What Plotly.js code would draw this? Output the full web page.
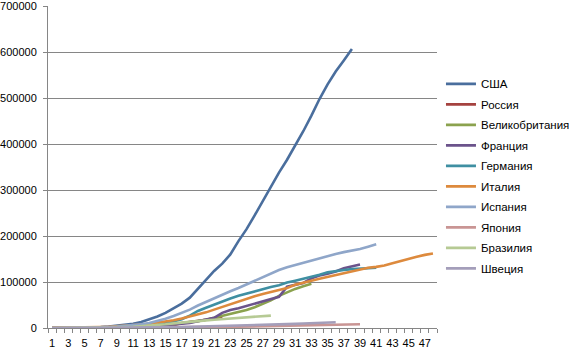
<!DOCTYPE html>
<html>
<head>
<meta charset="utf-8">
<script src="https://cdn.plot.ly/plotly-3.0.1.min.js"></script>
<style>html,body{margin:0;padding:0;background:#fff;}#chart{width:569px;height:354px;}</style>
</head>
<body>
<div id="chart"></div>
<script>
const seriesNames = ["США","Россия","Великобритания","Франция","Германия","Италия","Испания","Япония","Бразилия","Швеция"];
const seriesColors = ["#4A6E9D","#A5423F","#8BA24E","#6B538B","#3F8FA2","#DD8A3D","#8FA6C9","#C99594","#B6CA94","#A49EBA"];

const usa = [100,200,400,700,1000,1600,2200,3000,4500,6500,9000,13000,19000,25000,33000,43000,53000,66000,85000,103000,124000,140000,160000,189000,215000,245000,277000,308000,338000,366000,396000,428000,462000,498000,530000,558000,582000,607000];
const russia = [100,150,200,250,300,400,500,650,850,1100,1500,1900,2400,3500,4700,6300,11000,13000,15000,18000,21000,24500];
const uk = [100,150,200,300,400,600,800,1100,1400,1900,2600,3300,4000,5000,6600,8100,10000,12000,15000,18000,22000,25500,29500,34000,39000,45000,52000,60000,70000,78000,85000,91000,96000];
const france = [100,130,190,290,420,610,950,1200,1800,2300,2900,3700,4500,5400,6600,7700,9100,11000,14500,18000,22000,33000,39000,43000,48000,52000,57000,62000,68000,90000,94000,98000,108000,114000,118000,123000,130000,134000,138000];
const germany = [100,150,200,300,500,700,1000,1300,1900,2700,3700,4800,6000,7500,10000,14000,19000,27000,37000,44000,51000,58000,64000,70000,75000,80000,85000,89000,93000,99000,103000,107000,111000,116000,121000,124000,126000,128000,129000,130000,131000];
const italy = [200,300,500,800,1100,1600,2100,2800,3600,4600,5800,7300,9200,11500,14000,17000,20500,24500,29000,34000,40000,46000,52000,58000,64000,69000,74000,78000,82000,87000,94000,99000,103000,107000,111000,115000,119000,123000,127000,131000,133000,136000,141000,146000,151000,155000,159000,162000];
const spain = [100,150,250,400,600,900,1300,2000,3000,4300,6000,8000,11000,15000,20000,26000,33000,40000,49000,57000,65000,73000,80000,87000,95000,103000,111000,119000,126000,132000,137000,142000,147000,152000,157000,161000,165000,168000,172000,177000,182000];
const japan = [150,200,250,300,400,450,500,550,600,700,800,900,1000,1100,1200,1300,1400,1500,1700,1900,2100,2300,2600,2900,3200,3500,3800,4100,4400,4800,5200,5600,6000,6400,6800,7200,7500,7800,8100];
const brazil = [100,150,200,300,450,600,900,1200,1500,2000,2500,3500,4500,6000,8000,10000,12000,13500,15000,16500,18000,19500,21000,22000,23500,24500,25500,27000];
const sweden = [100,150,200,300,400,500,600,700,800,900,1000,1100,1300,1500,1700,2000,2300,2600,3000,3400,3700,4000,4400,4900,5500,6000,6500,7000,7600,8200,9000,9700,10500,11000,11800,12500];

const seriesValues = [usa,russia,uk,france,germany,italy,spain,japan,brazil,sweden];
const xTickLabels = [];
for (let d = 1; d <= 47; d += 2) xTickLabels.push(d);
const yTicks = [0,100000,200000,300000,400000,500000,600000,700000];

const traces = seriesValues.map((vals, i) => ({
  type: 'scatter',
  mode: 'lines',
  name: seriesNames[i],
  legendgroup: 'g' + i,
  x: vals.map((v, k) => k + 1),
  y: vals,
  line: {color: seriesColors[i], width: 2.6}
}));

const layout = {
  width: 569, height: 354,
  margin: {l: 48, r: 132, t: 6, b: 26, autoexpand: false},
  paper_bgcolor: '#ffffff', plot_bgcolor: '#ffffff',
  font: {family: 'Liberation Sans, Arial, sans-serif', size: 11, color: '#000'},
  showlegend: true,
  legend: {
    xref: 'container', yref: 'container',
    x: 0.775, xanchor: 'left', y: 0.804, yanchor: 'top',
    font: {family: 'Liberation Sans, Arial, sans-serif', size: 11.5, color: '#000'},
    tracegroupgap: 1.5,
    itemwidth: 30,
    maxheight: 330,
    bgcolor: 'rgba(0,0,0,0)'
  },
  xaxis: {
    range: [0.5, 48.5],
    tickmode: 'array', tickvals: xTickLabels, ticktext: xTickLabels.map(String),
    ticks: '', showgrid: false, zeroline: false,
    showline: true, linecolor: '#868686', linewidth: 1,
    ticklabelstandoff: 5,
    tickfont: {size: 11},
    minor: {ticks: 'outside', tick0: 0.5, dtick: 1, ticklen: 4, tickcolor: '#868686', tickwidth: 1, showgrid: false},
    fixedrange: true
  },
  yaxis: {
    range: [0, 700400],
    tickmode: 'array', tickvals: yTicks, ticktext: yTicks.map(String),
    ticks: 'outside', ticklen: 4, tickcolor: '#868686',
    showgrid: true, gridcolor: '#868686', gridwidth: 1,
    zeroline: false,
    showline: true, linecolor: '#868686', linewidth: 1,
    ticklabelstandoff: 4,
    tickfont: {size: 11},
    fixedrange: true
  }
};

Plotly.newPlot('chart', traces, layout, {displayModeBar: false, staticPlot: true});
</script>
</body>
</html>
